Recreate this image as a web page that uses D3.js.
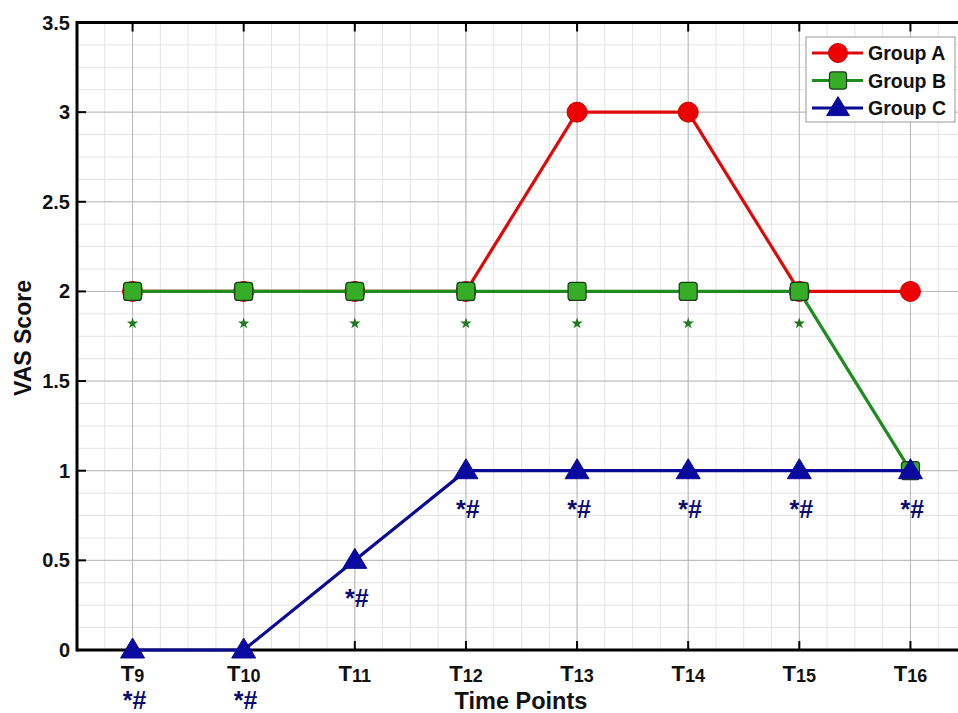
<!DOCTYPE html>
<html>
<head>
<meta charset="utf-8">
<script src="https://cdn.jsdelivr.net/npm/d3@7"></script>
<style>
  body { margin: 0; background: #fff; }
  text { font-family: "Liberation Sans", Arial, sans-serif; font-weight: bold; }
</style>
</head>
<body>
<svg id="chart"></svg>
<script>
// data
const timeNums = [9, 10, 11, 12, 13, 14, 15, 16]
const groupA = [2, 2, 2, 2, 3, 3, 2, 2]
const groupB = [2, 2, 2, 2, 2, 2, 2, 1]
const groupC = [0, 0, 0.5, 1, 1, 1, 1, 1]
const starB = [true, true, true, true, true, true, true, false]   // green * under Group B
const markC = [true, true, true, true, true, true, true, true]    // *# under Group C
const yTicks = [0, 0.5, 1, 1.5, 2, 2.5, 3, 3.5]

const width = 958, height = 713
const plotLeft = 77, plotTop = 22.5, plotBottom = 650, plotRight = 966

const svg = d3.select('#chart').attr('width', width).attr('height', height)

const x = d3.scalePoint().domain(timeNums).range([plotLeft, plotRight]).padding(0.5)
const xi = d3.scaleLinear().domain([-0.5, timeNums.length - 0.5]).range([plotLeft, plotRight])
const y = d3.scaleLinear().domain([0, 3.5]).range([plotBottom, plotTop])

// grid: minor first, then major
const grid = svg.append('g')
grid.selectAll('line.vmin').data(d3.range(-0.5, timeNums.length - 0.4, 0.25))
  .enter().append('line')
  .attr('x1', d => xi(d)).attr('x2', d => xi(d)).attr('y1', plotTop).attr('y2', plotBottom)
  .attr('stroke', '#e4e4e4').attr('stroke-width', 1)
grid.selectAll('line.hmin').data(d3.range(0, 3.5001, 0.125))
  .enter().append('line')
  .attr('x1', plotLeft).attr('x2', plotRight).attr('y1', d => y(d)).attr('y2', d => y(d))
  .attr('stroke', '#e4e4e4').attr('stroke-width', 1)
grid.selectAll('line.vmaj').data(timeNums)
  .enter().append('line')
  .attr('x1', d => x(d)).attr('x2', d => x(d)).attr('y1', plotTop).attr('y2', plotBottom)
  .attr('stroke', '#b8b8b8').attr('stroke-width', 1)
grid.selectAll('line.hmaj').data(yTicks)
  .enter().append('line')
  .attr('x1', plotLeft).attr('x2', plotRight).attr('y1', d => y(d)).attr('y2', d => y(d))
  .attr('stroke', '#b8b8b8').attr('stroke-width', 1)

// frame
svg.append('line').attr('x1', plotLeft).attr('x2', width).attr('y1', plotTop).attr('y2', plotTop)
  .attr('stroke', '#000').attr('stroke-width', 3)
svg.append('line').attr('x1', plotLeft).attr('x2', width).attr('y1', plotBottom).attr('y2', plotBottom)
  .attr('stroke', '#000').attr('stroke-width', 3)
svg.append('line').attr('x1', plotLeft).attr('x2', plotLeft).attr('y1', plotTop - 1.5).attr('y2', plotBottom + 1.5)
  .attr('stroke', '#000').attr('stroke-width', 3)

// inward ticks
svg.selectAll('line.tb').data(timeNums).enter().append('line')
  .attr('x1', d => x(d)).attr('x2', d => x(d)).attr('y1', plotBottom).attr('y2', plotBottom - 9)
  .attr('stroke', '#000').attr('stroke-width', 2)
svg.selectAll('line.tt').data(timeNums).enter().append('line')
  .attr('x1', d => x(d)).attr('x2', d => x(d)).attr('y1', plotTop).attr('y2', plotTop + 9)
  .attr('stroke', '#000').attr('stroke-width', 2)
svg.selectAll('line.tl').data(yTicks).enter().append('line')
  .attr('x1', plotLeft).attr('x2', plotLeft + 9).attr('y1', d => y(d)).attr('y2', d => y(d))
  .attr('stroke', '#000').attr('stroke-width', 2)

// y tick labels
svg.selectAll('text.yl').data(yTicks).enter().append('text')
  .attr('x', plotLeft - 7).attr('y', d => y(d) + 7)
  .attr('text-anchor', 'end').attr('font-size', 20).attr('fill', '#111')
  .text(d => d)

// x tick labels: T + smaller number
const xl = svg.selectAll('text.xl').data(timeNums).enter().append('text')
  .attr('x', d => x(d)).attr('y', 681)
  .attr('text-anchor', 'middle').attr('fill', '#111')
xl.append('tspan').attr('font-size', 22).text('T')
xl.append('tspan').attr('font-size', 18).attr('dy', 1).text(d => d)

// axis titles
svg.append('text').attr('x', 521).attr('y', 709).attr('text-anchor', 'middle')
  .attr('font-size', 23.5).attr('fill', '#111').text('Time Points')
svg.append('text').attr('transform', 'translate(31,338) rotate(-90)').attr('text-anchor', 'middle')
  .attr('font-size', 23).attr('fill', '#111').text('VAS Score')

// series
const series = [
  { name: 'Group A', values: groupA, line: '#dd0a0a', fill: '#ee0000', stroke: '#cc0000', shape: 'circle' },
  { name: 'Group B', values: groupB, line: '#1e8c1e', fill: '#36ad26', stroke: '#1a3a1a', shape: 'square' },
  { name: 'Group C', values: groupC, line: '#0a0a96', fill: '#0a0aa0', stroke: '#0a0a96', shape: 'triangle' }
]

const line = d3.line().x((d, i) => x(timeNums[i])).y(d => y(d))

function drawMarker(g, shape, cx, cy, s) {
  if (shape === 'circle') {
    g.append('circle').attr('cx', cx).attr('cy', cy).attr('r', 10 * s)
  } else if (shape === 'square') {
    g.append('rect').attr('x', cx - 9 * s).attr('y', cy - 9 * s)
      .attr('width', 18 * s).attr('height', 18 * s).attr('rx', 3 * s).attr('stroke-width', 1.2)
  } else {
    g.append('path').attr('d', `M${cx},${cy - 12 * s}L${cx + 12 * s},${cy + 8 * s}L${cx - 12 * s},${cy + 8 * s}Z`)
  }
}

series.forEach(s => {
  svg.append('path').datum(s.values).attr('d', line)
    .attr('fill', 'none').attr('stroke', s.line).attr('stroke-width', 3.2)
  const g = svg.append('g').attr('fill', s.fill).attr('stroke', s.stroke)
  s.values.forEach((v, i) => drawMarker(g, s.shape, x(timeNums[i]), y(v), 1))
})

// significance marks
const star = d3.symbol().type(d3.symbolStar).size(40)
svg.selectAll('path.star').data(timeNums.filter((d, i) => starB[i])).enter().append('path')
  .attr('d', star)
  .attr('transform', d => `translate(${x(d)},${y(groupB[timeNums.indexOf(d)]) + 32})`)
  .attr('fill', '#1e7a1e')

svg.selectAll('text.mc').data(timeNums.filter((d, i) => markC[i])).enter().append('text')
  .attr('x', d => x(d) + 2)
  .attr('y', d => {
    const v = groupC[timeNums.indexOf(d)]
    return v === 0 ? 709 : y(v) + 47
  })
  .attr('text-anchor', 'middle')
  .attr('font-size', d => groupC[timeNums.indexOf(d)] === 0 ? 25 : 25)
  .attr('font-weight', 'normal')
  .attr('fill', '#0a0a6e')
  .text('*#')

// legend
const lg = svg.append('g').attr('transform', 'translate(806,37)')
lg.append('rect').attr('width', 149).attr('height', 85)
  .attr('fill', '#fff').attr('stroke', '#999').attr('stroke-width', 1)
series.forEach((s, i) => {
  const ly = 16 + i * 27.5
  lg.append('line').attr('x1', 6).attr('x2', 57).attr('y1', ly).attr('y2', ly)
    .attr('stroke', s.line).attr('stroke-width', 3)
  const g = lg.append('g').attr('fill', s.fill).attr('stroke', s.stroke)
  drawMarker(g, s.shape, 32, ly, 0.95)
  lg.append('text').attr('x', 62).attr('y', ly + 7).attr('font-size', 19.5).attr('fill', '#111').text(s.name)
})
</script>
</body>
</html>
